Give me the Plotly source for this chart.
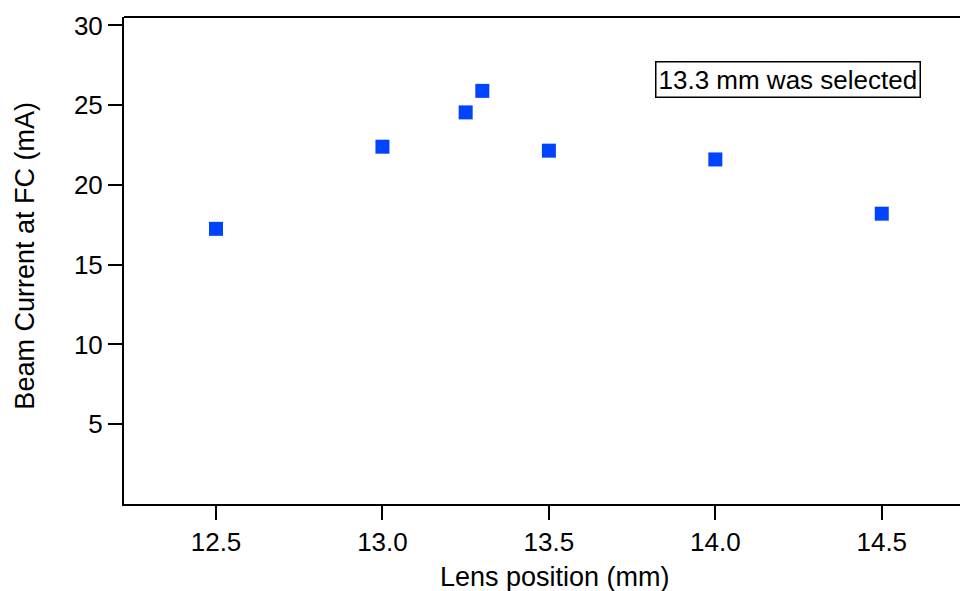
import plotly.graph_objects as go

lens_position = [12.5, 13.0, 13.25, 13.3, 13.5, 14.0, 14.5]
beam_current = [17.25, 22.4, 24.55, 25.9, 22.15, 21.6, 18.2]
y_ticks = [5, 10, 15, 20, 25, 30]
x_ticks = [12.5, 13.0, 13.5, 14.0, 14.5]
x_tick_labels = ["12.5", "13.0", "13.5", "14.0", "14.5"]

FONT = "Liberation Sans, Arial, sans-serif"

fig = go.Figure()
fig.add_trace(go.Scatter(
    x=lens_position, y=beam_current, mode="markers",
    marker=dict(symbol="square", size=14, color="#0044ff", line=dict(width=0)),
    showlegend=False,
))

axis_common = dict(
    showgrid=False, zeroline=False, showline=True, linecolor="black", linewidth=2,
    ticks="outside", ticklen=14, tickwidth=2, tickcolor="black",
    tickfont=dict(family=FONT, size=26, color="black"),
    automargin=False,
)

fig.update_layout(
    width=960, height=591,
    margin=dict(l=124, r=0, t=17, b=87),
    paper_bgcolor="white", plot_bgcolor="white",
    font=dict(family=FONT, size=26, color="black"),
    xaxis=dict(range=[12.2236, 14.735], tickvals=x_ticks, ticktext=x_tick_labels, **axis_common),
    yaxis=dict(range=[0, 30.53], tickvals=y_ticks, **axis_common),
    shapes=[dict(type="line", xref="paper", yref="paper", x0=0, x1=1, y0=1, y1=1,
                 line=dict(color="black", width=2))],
    annotations=[
        dict(text="13.3 mm was selected", x=14.219, y=26.63, xref="x", yref="y",
             showarrow=False, font=dict(family=FONT, size=26, color="black"),
             bordercolor="black", borderwidth=1.5, borderpad=2, bgcolor="white"),
        dict(text="Lens position (mm)", x=0.516, y=0, xref="paper", yref="paper",
             xanchor="center", yanchor="middle", yshift=-73,
             showarrow=False, font=dict(family=FONT, size=27, color="black")),
        dict(text="Beam Current at FC (mA)", textangle=-90, x=0, y=0.51,
             xref="paper", yref="paper", xanchor="center", yanchor="middle", xshift=-99,
             showarrow=False, font=dict(family=FONT, size=27, color="black")),
    ],
)

fig.write_html("out.html", config={"displayModeBar": False},
               post_script="document.body.style.margin='0px';")
